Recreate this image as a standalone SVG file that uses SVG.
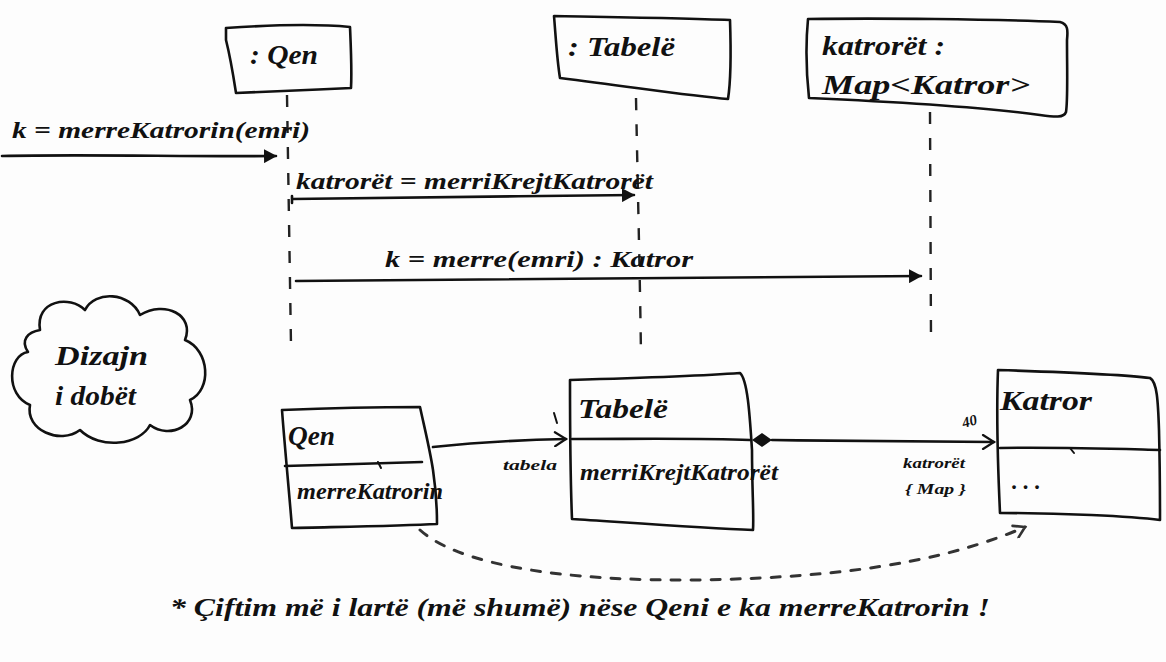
<svg xmlns="http://www.w3.org/2000/svg" width="1166" height="662" viewBox="0 0 1166 662">
  <style>
    .ink { fill: none; stroke: #111; stroke-width: 2.6; stroke-linecap: round; stroke-linejoin: round; }
    .thin { fill: none; stroke: #111; stroke-width: 2; stroke-linecap: round; }
    .life { fill: none; stroke: #222; stroke-width: 2.4; stroke-dasharray: 12 14; }
    .dep { fill: none; stroke: #333; stroke-width: 3; stroke-dasharray: 9 11; stroke-linecap: round; }
    .t { font-family: "Liberation Serif", "DejaVu Serif", serif; font-style: italic; font-weight: bold; fill: #111; }
    .big { font-size: 27px; }
    .msg { font-size: 23px; }
    .small { font-size: 15px; }
  </style>
  <defs>
    <marker id="solid" markerWidth="14" markerHeight="14" refX="12" refY="7" orient="auto" markerUnits="userSpaceOnUse">
      <path d="M0,0 L13,7 L0,14 Z" fill="#111"/>
    </marker>
    <marker id="open" markerWidth="16" markerHeight="16" refX="13" refY="8" orient="auto" markerUnits="userSpaceOnUse">
      <path d="M2,1 L13,8 L2,15" fill="none" stroke="#111" stroke-width="2.2" stroke-linecap="round"/>
    </marker>
    <marker id="openDash" markerWidth="16" markerHeight="16" refX="13" refY="8" orient="auto" markerUnits="userSpaceOnUse">
      <path d="M2,2 L13,8 L3,15" fill="none" stroke="#333" stroke-width="2.6" stroke-linecap="round"/>
    </marker>
  </defs>

  <rect width="1166" height="662" fill="#fdfdfd"/>

  <!-- lifelines, messages and associations -->
  <g id="connectors">
    <path class="life" d="M287,95 L291,345"/>
    <path class="life" d="M636,98 C638,200 640,280 641,355"/>
    <path class="life" d="M930,112 L931,340"/>

    <path class="ink" d="M2,156 C90,154 190,157 276,156" marker-end="url(#solid)"/>
    <path class="ink" d="M292,203 L292,196 M292,199 C400,198 520,196 634,195" marker-end="url(#solid)"/>
    <path class="ink" d="M296,281 C480,280 700,279 921,276" marker-end="url(#solid)"/>

    <!-- Qen -> Tabelë -->
    <path class="ink" d="M433,447 C480,442 520,440 566,439" marker-end="url(#open)"/>
    <path class="thin" d="M554,413 L557,423"/>
    <!-- Tabelë -> Katror (composition) -->
    <path d="M752,440 L762,433 L772,440 L762,447 Z" fill="#111"/>
    <path class="ink" d="M772,440 C850,441 930,442 994,442" marker-end="url(#open)"/>
    <text class="t small" x="962" y="426" transform="rotate(-15 970 421)">40</text>
    <!-- dependency -->
    <path class="dep" d="M420,530 C470,575 620,585 760,578 C880,572 960,555 1025,527" marker-end="url(#openDash)"/>
  </g>

  <!-- sequence participants -->
  <g id="qen-obj">
    <path class="ink" d="M226,28 C270,25 320,24 350,27 C351,50 352,70 351,88 C310,90 260,92 236,93 C234,80 231,60 226,40 Z"/>
    <text class="t big" x="250" y="64" textLength="68" lengthAdjust="spacingAndGlyphs">: Qen</text>
  </g>
  <g id="tabele-obj">
    <path class="ink" d="M554,16 C610,17 680,18 730,20 C731,50 731,80 728,99 C690,96 640,88 560,78 C557,60 556,40 554,16 Z"/>
    <text class="t big" x="568" y="56" textLength="107" lengthAdjust="spacingAndGlyphs">: Tabelë</text>
  </g>
  <g id="katroret-obj">
    <path class="ink" d="M808,19 C880,18 990,19 1060,22 C1068,24 1068,30 1067,40 C1067,70 1068,100 1066,112 C1064,118 1055,117 1040,115 C990,108 900,102 809,98 C806,70 806,40 808,19 Z"/>
    <text class="t big" x="822" y="55" textLength="123" lengthAdjust="spacingAndGlyphs">katrorët :</text>
    <text class="t big" x="822" y="94" textLength="208" lengthAdjust="spacingAndGlyphs">Map&lt;Katror&gt;</text>
  </g>

  <!-- message labels -->
  <g id="msg-labels">
    <text class="t msg" x="12" y="138" textLength="298" lengthAdjust="spacingAndGlyphs">k = merreKatrorin(emri)</text>
    <text class="t msg" x="296" y="189" textLength="357" lengthAdjust="spacingAndGlyphs">katrorët = merriKrejtKatrorët</text>
    <text class="t msg" x="385" y="267" textLength="308" lengthAdjust="spacingAndGlyphs">k = merre(emri) : Katror</text>
  </g>

  <!-- note cloud -->
  <g id="note-cloud">
    <path class="ink" d="M40,330 C35,300 70,295 85,310 C95,290 130,292 140,315 C165,300 195,315 185,340 C210,350 212,390 190,400 C200,425 170,440 150,425 C140,445 100,450 80,430 C60,445 25,430 30,405 C5,395 8,355 28,352 C20,340 28,332 40,330 Z"/>
    <text class="t big" x="55" y="365" textLength="93" lengthAdjust="spacingAndGlyphs">Dizajn</text>
    <text class="t big" x="55" y="405" textLength="81" lengthAdjust="spacingAndGlyphs">i dobët</text>
  </g>

  <!-- class boxes -->
  <g id="qen-class">
    <path class="ink" d="M282,410 C330,408 390,407 420,407 C425,430 430,450 433,470 C436,490 437,510 437,524 C400,526 330,527 292,528 C289,490 285,450 282,410 Z"/>
    <path class="ink" d="M285,466 C330,465 380,463 422,462"/>
    <path class="thin" d="M378,462 L381,468"/>
    <text class="t big" x="288" y="445" textLength="47" lengthAdjust="spacingAndGlyphs">Qen</text>
    <text class="t msg" x="297" y="499" textLength="146" lengthAdjust="spacingAndGlyphs">merreKatrorin</text>
  </g>
  <g id="tabele-class">
    <path class="ink" d="M570,380 C640,378 700,376 740,373 C748,380 750,420 752,450 C752,490 754,515 753,530 C700,528 620,522 572,519 C570,470 570,420 570,380 Z"/>
    <path class="ink" d="M572,439 C640,439 700,438 750,440"/>
    <text class="t big" x="578" y="418" textLength="90" lengthAdjust="spacingAndGlyphs">Tabelë</text>
    <text class="t msg" x="580" y="480" textLength="198" lengthAdjust="spacingAndGlyphs">merriKrejtKatrorët</text>
  </g>
  <g id="katror-class">
    <path class="ink" d="M998,370 C1060,372 1120,374 1150,378 C1157,382 1158,400 1159,430 C1160,470 1160,500 1160,520 C1130,516 1060,513 1000,513 C998,470 996,420 998,370 Z"/>
    <path class="ink" d="M1000,448 C1060,447 1120,449 1160,450"/>
    <path class="thin" d="M1070,448 L1074,453"/>
    <text class="t big" x="1000" y="410" textLength="92" lengthAdjust="spacingAndGlyphs">Katror</text>
    <text class="t msg" x="1012" y="489">. . .</text>
  </g>

  <!-- association labels -->
  <g id="assoc-labels">
    <text class="t small" x="503" y="470" textLength="54" lengthAdjust="spacingAndGlyphs">tabela</text>
    <text class="t small" x="903" y="468" textLength="62" lengthAdjust="spacingAndGlyphs">katrorët</text>
    <text class="t small" x="905" y="494" textLength="61" lengthAdjust="spacingAndGlyphs">{ Map }</text>
  </g>

  <!-- footnote -->
  <text class="t" x="170" y="616" font-size="26" textLength="820" lengthAdjust="spacingAndGlyphs">* Çiftim më i lartë (më shumë) nëse Qeni e ka merreKatrorin !</text>
</svg>
